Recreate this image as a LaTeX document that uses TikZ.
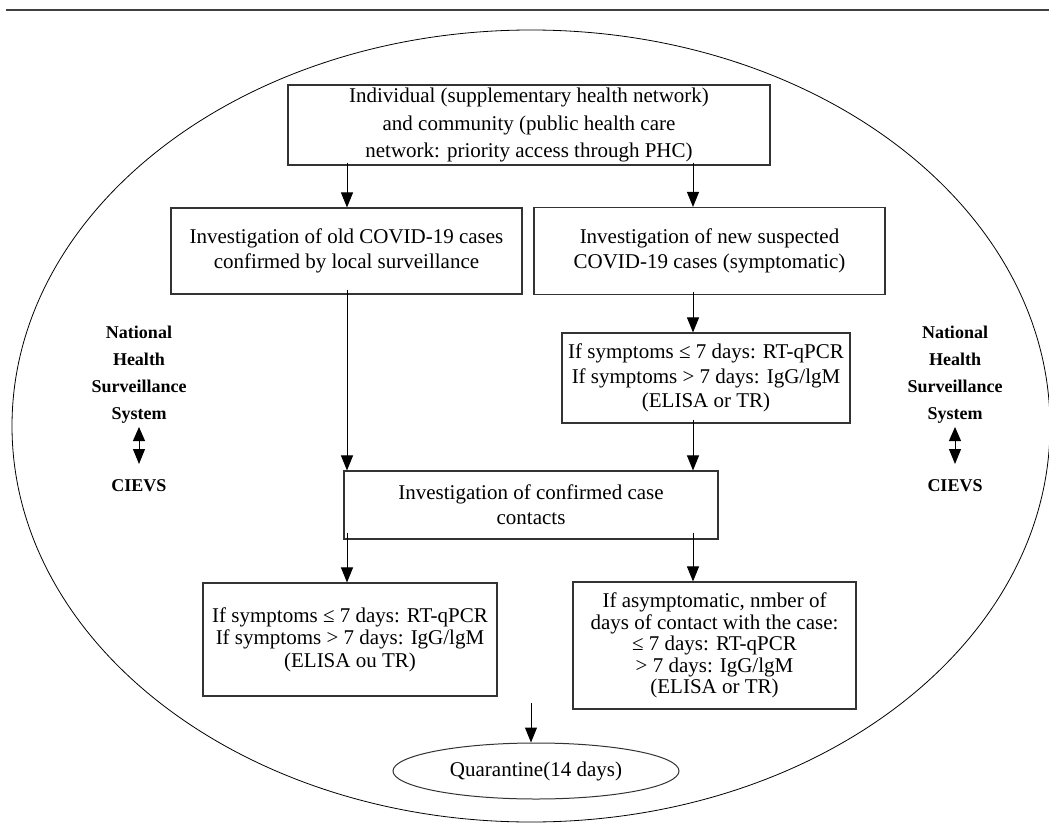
\documentclass[tikz,border=0pt]{standalone}
\usepackage{fontspec}
\setmainfont{Liberation Serif}
\usetikzlibrary{arrows.meta,shapes.geometric}
\begin{document}
\begin{tikzpicture}[x=1pt,y=-1pt,
  box/.style={draw=black!80, line width=1.1pt, align=center, inner sep=0pt},
  fs/.style={font=\fontsize{21}{#1}\selectfont},
  arr/.style={-{Triangle[length=15pt,width=12pt]}, line width=1pt},
  dbl/.style={{Triangle[length=14pt,width=12pt]}-{Triangle[length=15pt,width=12pt]}, line width=1pt},
  lbl/.style={align=center, inner sep=0pt, font=\fontsize{18}{27}\selectfont\bfseries}
]
\useasboundingbox (0,0) rectangle (1049,824);
\draw[line width=1.6pt, black!75] (6,10) -- (1049,10);
\node[draw, ellipse, minimum width=1038pt, minimum height=792pt, inner sep=0pt, line width=0.8pt] (outer) at (531,426) {};

\node[box, fs=27.5, minimum width=482pt, minimum height=80pt] (b1) at (529,125)
  {Individual (supplementary health network)\\and community (public health care\\network: priority access through PHC)};
\node[box, fs=25, minimum width=351pt, minimum height=86pt] (b2) at (346.5,251)
  {Investigation of old COVID-19 cases\\confirmed by local surveillance};
\node[box, fs=25, minimum width=351pt, minimum height=87pt] (b3) at (709.5,251)
  {Investigation of new suspected\\COVID-19 cases (symptomatic)};
\node[box, fs=24.5, minimum width=288pt, minimum height=90pt] (b4) at (706,378)
  {If symptoms ≤ 7 days: RT-qPCR\\If symptoms > 7 days: IgG/lgM\\(ELISA or TR)};
\node[box, fs=25, minimum width=374pt, minimum height=68pt] (b5) at (531,505)
  {Investigation of confirmed case\\contacts};
\node[box, fs=22.5, minimum width=294pt, minimum height=113pt] (b6) at (350,639.5)
  {If symptoms ≤ 7 days: RT-qPCR\\If symptoms > 7 days: IgG/lgM\\(ELISA ou TR)};
\node[box, fs=21.5, minimum width=283pt, minimum height=127pt] (b7) at (714.5,645.5)
  {If asymptomatic, nmber of\\days of contact with the case:\\≤ 7 days: RT-qPCR\\> 7 days: IgG/lgM\\(ELISA or TR)};
\node[draw=black!80, line width=1pt, ellipse, inner sep=0pt, minimum width=286pt, minimum height=56pt, font=\fontsize{21}{25}\selectfont] (q) at (536,771) {Quarantine(14 days)};

\node[lbl] (lnat) at (139,375) {National\\Health\\Surveillance\\System};
\node[lbl] (lcie) at (139,486) {CIEVS};
\node[lbl] (rnat) at (955,375) {National\\Health\\Surveillance\\System};
\node[lbl] (rcie) at (955,486) {CIEVS};
\coordinate (la1) at (139,427);
\coordinate (la2) at (139,464);
\coordinate (ra1) at (955,427);
\coordinate (ra2) at (955,464);
\draw[dbl] (la1) -- (la2);
\draw[dbl] (ra1) -- (ra2);

\coordinate (xl) at (347,0);
\coordinate (xr) at (693,0);
\coordinate (qs) at (531,703);

\draw[arr] ([yshift=3pt]b1.south -| xl) -- (b2.north -| xl);
\draw[arr] ([yshift=3pt]b1.south -| xr) -- (b3.north -| xr);
\draw[arr] ([yshift=3pt]b3.south -| xr) -- (b4.north -| xr);
\draw[arr] ([yshift=5pt]b2.south -| xl) -- (b5.north -| xl);
\draw[arr] ([yshift=4pt]b4.south -| xr) -- (b5.north -| xr);
\draw[arr] ([yshift=7pt]b5.south -| xl) -- (b6.north -| xl);
\draw[arr] ([yshift=7pt]b5.south -| xr) -- (b7.north -| xr);
\draw[arr] (qs) -- (qs |- q.north);
\end{tikzpicture}
\end{document}
